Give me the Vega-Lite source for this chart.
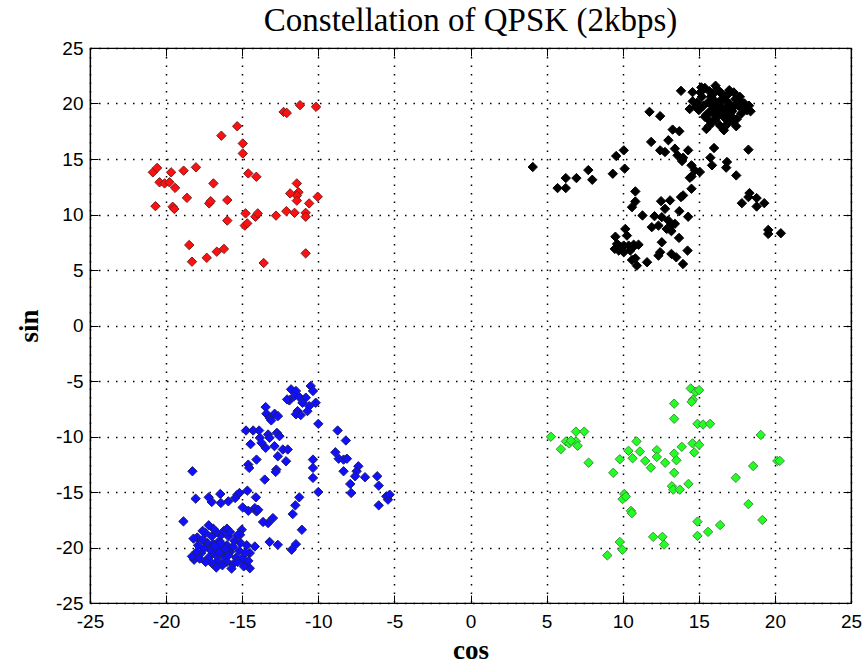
{
"$schema": "https://vega.github.io/schema/vega-lite/v6.json",
"width": 761, "height": 555,
"autosize": "none",
"padding": {"left": 90, "top": 48, "right": 17, "bottom": 66},
"background": "white",
"title": {"text": "Constellation of QPSK (2kbps)", "font": "Liberation Serif", "fontSize": 33, "fontWeight": "normal", "color": "black", "offset": 1, "anchor": "middle"},
"config": {"view": {"stroke": "black", "strokeWidth": 1.2}},
"datasets": {
"pts": [
{"s":"r","x":-12.28,"y":19.24},{"s":"r","x":-12.07,"y":19.15},{"s":"r","x":-11.2,"y":19.85},{"s":"r","x":-10.15,"y":19.7},{"s":"r","x":-15.33,"y":17.95},{"s":"r","x":-16.37,"y":17.1},{"s":"r","x":-14.96,"y":16.4},{"s":"r","x":-14.96,"y":15.5},{"s":"r","x":-20.87,"y":13.8},{"s":"r","x":-20.59,"y":14.2},{"s":"r","x":-19.67,"y":13.8},{"s":"r","x":-18.85,"y":13.95},{"s":"r","x":-18.04,"y":14.25},{"s":"r","x":-20.43,"y":12.9},{"s":"r","x":-20.1,"y":12.8},{"s":"r","x":-19.78,"y":12.9},{"s":"r","x":-19.41,"y":12.4},{"s":"r","x":-16.89,"y":12.8},{"s":"r","x":-14.6,"y":13.7},{"s":"r","x":-14.07,"y":13.4},{"s":"r","x":-11.41,"y":12.8},{"s":"r","x":-11.3,"y":12.0},{"s":"r","x":-11.41,"y":11.7},{"s":"r","x":-11.85,"y":11.9},{"s":"r","x":-11.41,"y":11.25},{"s":"r","x":-10.04,"y":11.6},{"s":"r","x":-10.6,"y":11.0},{"s":"r","x":-18.63,"y":11.5},{"s":"r","x":-17.17,"y":11.0},{"s":"r","x":-17.07,"y":11.2},{"s":"r","x":-15.98,"y":11.3},{"s":"r","x":-20.7,"y":10.75},{"s":"r","x":-19.57,"y":10.7},{"s":"r","x":-19.46,"y":10.5},{"s":"r","x":-15.98,"y":9.45},{"s":"r","x":-14.78,"y":10.1},{"s":"r","x":-14.83,"y":9.0},{"s":"r","x":-14.67,"y":9.2},{"s":"r","x":-14.13,"y":9.8},{"s":"r","x":-13.98,"y":10.1},{"s":"r","x":-12.78,"y":9.9},{"s":"r","x":-12.1,"y":10.3},{"s":"r","x":-11.56,"y":10.15},{"s":"r","x":-10.83,"y":10.15},{"s":"r","x":-10.83,"y":9.8},{"s":"r","x":-18.48,"y":7.25},{"s":"r","x":-18.3,"y":5.75},{"s":"r","x":-17.33,"y":6.1},{"s":"r","x":-16.67,"y":6.65},{"s":"r","x":-16.2,"y":6.9},{"s":"r","x":-13.59,"y":5.63},{"s":"r","x":-10.83,"y":6.5},
{"s":"k","x":4.09,"y":14.28},{"s":"k","x":5.72,"y":12.38},{"s":"k","x":6.26,"y":12.38},{"s":"k","x":6.26,"y":13.28},{"s":"k","x":6.96,"y":13.28},{"s":"k","x":7.74,"y":14.0},{"s":"k","x":8.0,"y":13.13},{"s":"k","x":9.35,"y":13.67},{"s":"k","x":9.57,"y":15.27},{"s":"k","x":10.07,"y":15.78},{"s":"k","x":10.13,"y":14.13},{"s":"k","x":10.83,"y":12.08},{"s":"k","x":11.76,"y":19.25},{"s":"k","x":12.46,"y":18.86},{"s":"k","x":13.83,"y":21.14},{"s":"k","x":14.59,"y":21.02},{"s":"k","x":15.17,"y":21.45},{"s":"k","x":15.65,"y":17.95},{"s":"k","x":16.65,"y":17.59},{"s":"k","x":17.46,"y":17.95},{"s":"k","x":17.74,"y":20.24},{"s":"k","x":18.17,"y":19.4},{"s":"k","x":13.28,"y":17.65},{"s":"k","x":13.72,"y":17.5},{"s":"k","x":11.87,"y":16.54},{"s":"k","x":13.0,"y":16.69},{"s":"k","x":12.46,"y":15.78},{"s":"k","x":12.78,"y":15.63},{"s":"k","x":13.43,"y":15.93},{"s":"k","x":13.6,"y":15.33},{"s":"k","x":13.97,"y":15.12},{"s":"k","x":14.3,"y":15.78},{"s":"k","x":13.9,"y":14.82},{"s":"k","x":14.52,"y":14.43},{"s":"k","x":14.74,"y":13.98},{"s":"k","x":15.07,"y":13.83},{"s":"k","x":14.52,"y":13.43},{"s":"k","x":14.41,"y":13.31},{"s":"k","x":16.0,"y":15.99},{"s":"k","x":15.76,"y":15.12},{"s":"k","x":15.87,"y":14.43},{"s":"k","x":16.85,"y":14.73},{"s":"k","x":16.8,"y":14.22},{"s":"k","x":18.26,"y":15.84},{"s":"k","x":17.46,"y":13.52},{"s":"k","x":14.52,"y":12.32},{"s":"k","x":13.97,"y":11.72},{"s":"k","x":13.83,"y":11.57},{"s":"k","x":18.33,"y":11.93},{"s":"k","x":18.26,"y":11.57},{"s":"k","x":17.83,"y":11.02},{"s":"k","x":18.8,"y":11.48},{"s":"k","x":18.8,"y":10.72},{"s":"k","x":19.3,"y":11.02},{"s":"k","x":19.56,"y":8.25},{"s":"k","x":20.39,"y":8.31},{"s":"k","x":19.56,"y":8.61},{"s":"k","x":10.83,"y":11.17},{"s":"k","x":10.61,"y":10.66},{"s":"k","x":11.3,"y":9.91},{"s":"k","x":12.09,"y":9.85},{"s":"k","x":12.52,"y":11.2},{"s":"k","x":13.11,"y":11.27},{"s":"k","x":12.78,"y":10.51},{"s":"k","x":12.57,"y":9.76},{"s":"k","x":13.0,"y":9.46},{"s":"k","x":13.17,"y":9.0},{"s":"k","x":12.35,"y":9.0},{"s":"k","x":11.91,"y":8.86},{"s":"k","x":12.89,"y":8.7},{"s":"k","x":13.2,"y":8.5},{"s":"k","x":13.43,"y":9.16},{"s":"k","x":13.72,"y":10.3},{"s":"k","x":14.3,"y":9.8},{"s":"k","x":13.7,"y":7.89},{"s":"k","x":12.57,"y":7.5},{"s":"k","x":14.26,"y":6.75},{"s":"k","x":12.46,"y":6.6},{"s":"k","x":12.35,"y":6.3},{"s":"k","x":13.2,"y":6.45},{"s":"k","x":13.52,"y":6.14},{"s":"k","x":13.96,"y":5.54},{"s":"k","x":11.6,"y":5.7},{"s":"k","x":10.83,"y":6.05},{"s":"k","x":10.93,"y":5.39},{"s":"k","x":10.5,"y":6.75},{"s":"k","x":10.72,"y":7.28},{"s":"k","x":9.52,"y":8.0},{"s":"k","x":9.48,"y":6.9},{"s":"k","x":9.63,"y":7.35},{"s":"k","x":9.85,"y":7.11},{"s":"k","x":10.17,"y":8.7},{"s":"k","x":10.28,"y":8.1},{"s":"k","x":9.74,"y":6.75},{"s":"k","x":10.07,"y":7.2},{"s":"k","x":10.39,"y":7.2},{"s":"k","x":10.72,"y":7.11},{"s":"k","x":11.04,"y":7.28},{"s":"k","x":10.07,"y":6.6},{"s":"k","x":10.61,"y":5.9},
{"s":"k","x":16.5,"y":19.7},{"s":"k","x":16.2,"y":19.9},{"s":"k","x":16.8,"y":19.5},{"s":"k","x":16.0,"y":20.3},{"s":"k","x":16.6,"y":20.5},{"s":"k","x":17.0,"y":20.0},{"s":"k","x":15.8,"y":19.4},{"s":"k","x":16.3,"y":19.1},{"s":"k","x":17.2,"y":19.3},{"s":"k","x":15.6,"y":20.1},{"s":"k","x":16.9,"y":20.8},{"s":"k","x":16.4,"y":21.0},{"s":"k","x":15.9,"y":20.8},{"s":"k","x":17.4,"y":20.4},{"s":"k","x":17.1,"y":18.9},{"s":"k","x":16.7,"y":18.7},{"s":"k","x":16.1,"y":18.5},{"s":"k","x":15.5,"y":19.0},{"s":"k","x":15.3,"y":19.8},{"s":"k","x":15.2,"y":20.6},{"s":"k","x":15.7,"y":21.1},{"s":"k","x":16.2,"y":21.3},{"s":"k","x":17.0,"y":21.2},{"s":"k","x":17.6,"y":19.8},{"s":"k","x":17.8,"y":19.1},{"s":"k","x":17.5,"y":18.6},{"s":"k","x":16.9,"y":18.2},{"s":"k","x":16.4,"y":18.0},{"s":"k","x":15.9,"y":18.3},{"s":"k","x":15.4,"y":18.8},{"s":"k","x":15.0,"y":19.4},{"s":"k","x":14.9,"y":20.1},{"s":"k","x":15.1,"y":21.0},{"s":"k","x":14.8,"y":19.7},{"s":"k","x":16.6,"y":19.2},{"s":"k","x":16.0,"y":19.6},{"s":"k","x":16.3,"y":20.1},{"s":"k","x":16.8,"y":20.2},{"s":"k","x":17.3,"y":19.7},{"s":"k","x":15.8,"y":20.6},{"s":"k","x":16.5,"y":20.9},{"s":"k","x":17.7,"y":20.6},{"s":"k","x":18.0,"y":20.0},{"s":"k","x":17.9,"y":19.5},{"s":"k","x":16.2,"y":18.8},{"s":"k","x":15.6,"y":18.6},{"s":"k","x":17.2,"y":18.4},{"s":"k","x":16.7,"y":17.9},{"s":"k","x":15.5,"y":17.7},{"s":"k","x":14.6,"y":20.2},{"s":"k","x":14.4,"y":19.5},{"s":"k","x":18.3,"y":19.8},{"s":"k","x":18.4,"y":19.3},{"s":"k","x":16.1,"y":21.6},{"s":"k","x":15.4,"y":21.4},{"s":"k","x":17.3,"y":21.0},{"s":"k","x":16.0,"y":19.0},{"s":"k","x":16.9,"y":19.0},{"s":"k","x":16.4,"y":19.4},{"s":"k","x":15.9,"y":19.9},
{"s":"b","x":-11.79,"y":-5.75},{"s":"b","x":-11.47,"y":-5.9},{"s":"b","x":-11.58,"y":-6.36},{"s":"b","x":-11.9,"y":-6.75},{"s":"b","x":-11.25,"y":-6.45},{"s":"b","x":-10.82,"y":-6.5},{"s":"b","x":-10.5,"y":-5.45},{"s":"b","x":-10.35,"y":-5.9},{"s":"b","x":-10.17,"y":-6.96},{"s":"b","x":-10.6,"y":-7.26},{"s":"b","x":-11.04,"y":-6.96},{"s":"b","x":-11.36,"y":-7.71},{"s":"b","x":-11.47,"y":-8.0},{"s":"b","x":-11.15,"y":-8.07},{"s":"b","x":-10.71,"y":-7.71},{"s":"b","x":-12.05,"y":-6.66},{"s":"b","x":-13.46,"y":-7.35},{"s":"b","x":-13.41,"y":-7.95},{"s":"b","x":-13.2,"y":-8.31},{"s":"b","x":-12.87,"y":-7.95},{"s":"b","x":-12.65,"y":-8.16},{"s":"b","x":-13.09,"y":-8.55},{"s":"b","x":-10.0,"y":-8.86},{"s":"b","x":-8.73,"y":-9.46},{"s":"b","x":-8.19,"y":-10.36},{"s":"b","x":-8.88,"y":-11.42},{"s":"b","x":-8.66,"y":-12.0},{"s":"b","x":-8.34,"y":-12.08},{"s":"b","x":-8.12,"y":-12.0},{"s":"b","x":-8.34,"y":-13.13},{"s":"b","x":-7.37,"y":-12.68},{"s":"b","x":-7.48,"y":-13.13},{"s":"b","x":-7.58,"y":-13.58},{"s":"b","x":-7.9,"y":-14.28},{"s":"b","x":-6.93,"y":-13.67},{"s":"b","x":-6.13,"y":-13.58},{"s":"b","x":-6.03,"y":-14.43},{"s":"b","x":-7.84,"y":-15.09},{"s":"b","x":-5.53,"y":-15.39},{"s":"b","x":-5.42,"y":-15.69},{"s":"b","x":-6.03,"y":-16.2},{"s":"b","x":-5.31,"y":-15.24},{"s":"b","x":-14.75,"y":-9.46},{"s":"b","x":-14.28,"y":-9.46},{"s":"b","x":-13.89,"y":-9.46},{"s":"b","x":-13.84,"y":-10.12},{"s":"b","x":-13.73,"y":-10.57},{"s":"b","x":-13.3,"y":-9.82},{"s":"b","x":-13.2,"y":-10.12},{"s":"b","x":-12.72,"y":-9.67},{"s":"b","x":-12.55,"y":-9.97},{"s":"b","x":-12.88,"y":-10.87},{"s":"b","x":-13.46,"y":-11.02},{"s":"b","x":-12.33,"y":-11.17},{"s":"b","x":-12.01,"y":-11.17},{"s":"b","x":-12.66,"y":-11.78},{"s":"b","x":-12.12,"y":-12.23},{"s":"b","x":-14.45,"y":-10.69},{"s":"b","x":-14.06,"y":-12.08},{"s":"b","x":-14.6,"y":-12.53},{"s":"b","x":-14.54,"y":-12.83},{"s":"b","x":-12.76,"y":-12.98},{"s":"b","x":-12.8,"y":-13.19},{"s":"b","x":-13.52,"y":-13.88},{"s":"b","x":-14.66,"y":-14.88},{"s":"b","x":-10.35,"y":-12.08},{"s":"b","x":-10.35,"y":-12.83},{"s":"b","x":-10.35,"y":-13.73},{"s":"b","x":-10.0,"y":-15.0},{"s":"b","x":-11.25,"y":-15.48},{"s":"b","x":-11.51,"y":-16.2},{"s":"b","x":-11.68,"y":-16.99},{"s":"b","x":-11.08,"y":-18.4},{"s":"b","x":-11.47,"y":-19.7},{"s":"b","x":-11.75,"y":-20.2},{"s":"b","x":-13.2,"y":-19.5},{"s":"b","x":-12.66,"y":-19.76},{"s":"b","x":-13.3,"y":-17.8},{"s":"b","x":-13.63,"y":-17.7},{"s":"b","x":-12.98,"y":-17.35},{"s":"b","x":-14.06,"y":-16.75},{"s":"b","x":-14.17,"y":-16.45},{"s":"b","x":-13.95,"y":-16.6},{"s":"b","x":-14.97,"y":-16.39},{"s":"b","x":-14.6,"y":-16.69},{"s":"b","x":-14.1,"y":-15.48},{"s":"b","x":-15.31,"y":-15.24},{"s":"b","x":-15.46,"y":-15.54},{"s":"b","x":-15.18,"y":-15.09},{"s":"b","x":-15.91,"y":-15.84},{"s":"b","x":-16.44,"y":-15.18},{"s":"b","x":-16.4,"y":-15.99},{"s":"b","x":-17.0,"y":-15.9},{"s":"b","x":-17.2,"y":-15.48},{"s":"b","x":-18.06,"y":-15.6},{"s":"b","x":-18.27,"y":-13.13},{"s":"b","x":-18.86,"y":-17.65},{"s":"b","x":-17.95,"y":-19.1},{"s":"b","x":-18.16,"y":-21.1},{"s":"b","x":-15.03,"y":-18.4},{"s":"b","x":-15.14,"y":-18.86},{"s":"b","x":-14.17,"y":-19.91},{"s":"b","x":-14.5,"y":-20.5},{"s":"b","x":-14.5,"y":-21.87},{"s":"b","x":-14.82,"y":-21.57},
{"s":"b","x":-16.6,"y":-20.0},{"s":"b","x":-16.9,"y":-19.7},{"s":"b","x":-16.3,"y":-20.3},{"s":"b","x":-17.1,"y":-20.2},{"s":"b","x":-16.0,"y":-19.8},{"s":"b","x":-16.5,"y":-19.4},{"s":"b","x":-17.3,"y":-19.6},{"s":"b","x":-16.8,"y":-20.6},{"s":"b","x":-16.2,"y":-20.8},{"s":"b","x":-15.8,"y":-20.4},{"s":"b","x":-17.5,"y":-20.1},{"s":"b","x":-15.6,"y":-19.9},{"s":"b","x":-16.4,"y":-18.9},{"s":"b","x":-17.0,"y":-19.0},{"s":"b","x":-16.7,"y":-18.6},{"s":"b","x":-17.6,"y":-19.3},{"s":"b","x":-17.9,"y":-19.8},{"s":"b","x":-17.7,"y":-20.5},{"s":"b","x":-17.2,"y":-20.9},{"s":"b","x":-16.6,"y":-21.2},{"s":"b","x":-16.0,"y":-21.3},{"s":"b","x":-15.4,"y":-20.9},{"s":"b","x":-15.2,"y":-20.3},{"s":"b","x":-15.5,"y":-19.4},{"s":"b","x":-15.9,"y":-19.0},{"s":"b","x":-16.2,"y":-18.5},{"s":"b","x":-17.4,"y":-18.7},{"s":"b","x":-18.0,"y":-20.4},{"s":"b","x":-18.2,"y":-19.2},{"s":"b","x":-17.0,"y":-21.4},{"s":"b","x":-16.3,"y":-21.6},{"s":"b","x":-15.6,"y":-21.5},{"s":"b","x":-15.0,"y":-21.0},{"s":"b","x":-14.8,"y":-20.5},{"s":"b","x":-14.7,"y":-19.8},{"s":"b","x":-15.1,"y":-19.6},{"s":"b","x":-15.3,"y":-18.9},{"s":"b","x":-16.9,"y":-18.3},{"s":"b","x":-17.2,"y":-18.0},{"s":"b","x":-16.1,"y":-20.1},{"s":"b","x":-16.8,"y":-19.9},{"s":"b","x":-16.5,"y":-20.5},{"s":"b","x":-17.4,"y":-21.3},{"s":"b","x":-15.9,"y":-20.7},{"s":"b","x":-15.7,"y":-21.9},{"s":"b","x":-14.9,"y":-21.7},{"s":"b","x":-17.8,"y":-21.0},{"s":"b","x":-16.4,"y":-19.6},{"s":"b","x":-15.3,"y":-21.3},{"s":"b","x":-16.0,"y":-18.3},{"s":"b","x":-17.6,"y":-18.5},{"s":"b","x":-18.3,"y":-20.8},{"s":"b","x":-16.7,"y":-21.8},{"s":"b","x":-14.6,"y":-21.2},{"s":"b","x":-15.8,"y":-18.6},
{"s":"g","x":14.47,"y":-5.67},{"s":"g","x":14.8,"y":-5.97},{"s":"g","x":15.02,"y":-5.82},{"s":"g","x":14.62,"y":-6.67},{"s":"g","x":14.53,"y":-6.88},{"s":"g","x":13.38,"y":-7.04},{"s":"g","x":13.38,"y":-8.4},{"s":"g","x":14.91,"y":-8.86},{"s":"g","x":15.28,"y":-8.92},{"s":"g","x":15.74,"y":-8.86},{"s":"g","x":5.28,"y":-10.02},{"s":"g","x":5.94,"y":-11.14},{"s":"g","x":6.27,"y":-10.44},{"s":"g","x":6.49,"y":-10.62},{"s":"g","x":6.93,"y":-10.44},{"s":"g","x":7.04,"y":-10.84},{"s":"g","x":6.93,"y":-9.56},{"s":"g","x":7.47,"y":-9.56},{"s":"g","x":6.6,"y":-10.38},{"s":"g","x":7.76,"y":-12.36},{"s":"g","x":9.38,"y":-13.27},{"s":"g","x":9.81,"y":-12.05},{"s":"g","x":10.38,"y":-11.29},{"s":"g","x":10.65,"y":-11.96},{"s":"g","x":10.91,"y":-10.44},{"s":"g","x":11.13,"y":-11.35},{"s":"g","x":11.48,"y":-12.2},{"s":"g","x":11.85,"y":-12.81},{"s":"g","x":12.24,"y":-11.23},{"s":"g","x":12.24,"y":-11.84},{"s":"g","x":12.79,"y":-12.36},{"s":"g","x":13.38,"y":-11.54},{"s":"g","x":13.53,"y":-12.14},{"s":"g","x":13.88,"y":-10.93},{"s":"g","x":13.38,"y":-13.27},{"s":"g","x":13.23,"y":-14.48},{"s":"g","x":13.32,"y":-14.79},{"s":"g","x":13.75,"y":-14.79},{"s":"g","x":14.32,"y":-14.27},{"s":"g","x":14.59,"y":-10.62},{"s":"g","x":14.7,"y":-11.44},{"s":"g","x":15.02,"y":-10.75},{"s":"g","x":10.1,"y":-15.18},{"s":"g","x":9.99,"y":-15.64},{"s":"g","x":10.21,"y":-15.41},{"s":"g","x":10.54,"y":-16.7},{"s":"g","x":10.6,"y":-16.91},{"s":"g","x":14.91,"y":-17.67},{"s":"g","x":14.91,"y":-18.95},{"s":"g","x":15.61,"y":-18.59},{"s":"g","x":16.4,"y":-17.98},{"s":"g","x":12.0,"y":-19.04},{"s":"g","x":12.61,"y":-19.04},{"s":"g","x":12.72,"y":-19.74},{"s":"g","x":9.81,"y":-19.5},{"s":"g","x":9.98,"y":-20.2},{"s":"g","x":8.99,"y":-20.71},{"s":"g","x":17.43,"y":-13.72},{"s":"g","x":18.57,"y":-12.66},{"s":"g","x":19.07,"y":-9.86},{"s":"g","x":18.26,"y":-16.09},{"s":"g","x":19.18,"y":-17.52},{"s":"g","x":20.16,"y":-12.2},{"s":"g","x":20.32,"y":-12.2}
]},
"data": {"name": "pts"},
"layer": [
{
"mark": {"type": "point", "shape": "diamond", "filled": true, "size": 88, "strokeWidth": 1, "opacity": 1},
"encoding": {
"x": {"field": "x", "type": "quantitative", "scale": {"domain": [-25, 25], "nice": false, "zero": false},
 "axis": {"orient": "bottom", "values": [-25,-20,-15,-10,-5,0,5,10,15,20,25], "labelExpr": "'' + datum.value", "title": "cos", "titleFont": "Liberation Serif", "titleFontSize": 27, "titleFontWeight": "bold", "titleColor": "black", "titlePadding": 6,
  "labelFont": "Liberation Sans", "labelFontSize": 19, "labelColor": "black", "labelPadding": 17, "labelFlush": false, "labelOverlap": false, "labelBound": false,
  "tickSize": -8, "tickColor": "black", "tickWidth": 1, "domainColor": "black", "domainWidth": 1.2,
  "grid": true, "gridColor": "black", "gridDash": [1.5, 7], "gridWidth": 1.5, "gridOpacity": 1}},
"y": {"field": "y", "type": "quantitative", "scale": {"domain": [-25, 25], "nice": false, "zero": false},
 "axis": {"orient": "left", "values": [-25,-20,-15,-10,-5,0,5,10,15,20,25], "labelExpr": "'' + datum.value", "title": "sin", "titleFont": "Liberation Serif", "titleFontSize": 27, "titleFontWeight": "bold", "titleColor": "black", "titlePadding": 12,
  "labelFont": "Liberation Sans", "labelFontSize": 19, "labelColor": "black", "labelPadding": 15, "labelFlush": false, "labelOverlap": false, "labelBound": false,
  "tickSize": -8, "tickColor": "black", "tickWidth": 1, "domainColor": "black", "domainWidth": 1.2,
  "grid": true, "gridColor": "black", "gridDash": [1.5, 7], "gridWidth": 1.5, "gridOpacity": 1}},
"fill": {"field": "s", "type": "nominal", "scale": {"domain": ["r", "k", "b", "g"], "range": ["#ff1010", "#000000", "#1010ff", "#22ff22"]}, "legend": null},
"stroke": {"field": "s", "type": "nominal", "scale": {"domain": ["r", "k", "b", "g"], "range": ["#7a1c1c", "#000000", "#1c1c70", "#3f8f3f"]}, "legend": null}
}
},
{
"mark": {"type": "point", "opacity": 0},
"encoding": {
"x": {"field": "x", "type": "quantitative", "scale": {"domain": [-25, 25], "nice": false, "zero": false},
 "axis": {"orient": "top", "values": [-25,-20,-15,-10,-5,0,5,10,15,20,25], "title": null, "labels": false, "grid": false, "tickSize": -8, "tickColor": "black", "domainColor": "black", "domainWidth": 1.2}},
"y": {"field": "y", "type": "quantitative", "scale": {"domain": [-25, 25], "nice": false, "zero": false},
 "axis": {"orient": "right", "values": [-25,-20,-15,-10,-5,0,5,10,15,20,25], "title": null, "labels": false, "grid": false, "tickSize": -8, "tickColor": "black", "domainColor": "black", "domainWidth": 1.2}}
}
}
],
"resolve": {"axis": {"x": "independent", "y": "independent"}}
}
